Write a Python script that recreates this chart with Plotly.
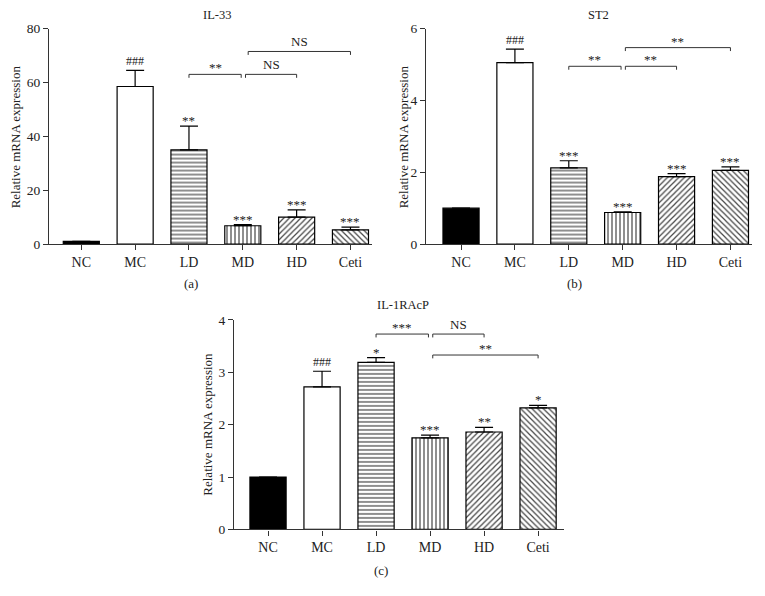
import plotly.graph_objects as go

W, H = 765, 596
# measured page mapping: image_x = fig_x + 8 ; image_y = 0.977 * fig_y + 14.4
X_OFF, Y_SCALE, Y_OFF = 8.0, 0.977, 14.4
FONT = "Liberation Serif"
TXT = "#222"

categories = ["NC", "MC", "LD", "MD", "HD", "Ceti"]

# Panel (a) IL-33
il33_vals = [1.0, 58.5, 35.0, 6.8, 10.0, 5.3]
il33_err = [0.0, 6.0, 8.8, 0.4, 2.7, 1.0]
il33_marks = ["", "###", "**", "***", "***", "***"]
il33_comp = [(2, 2.97, 63.0, "**"), (3.05, 4.0, 63.0, "NS"), (3.1, 5.0, 71.5, "NS")]

# Panel (b) ST2
st2_vals = [1.0, 5.05, 2.12, 0.88, 1.88, 2.05]
st2_err = [0.0, 0.38, 0.2, 0.02, 0.08, 0.1]
st2_marks = ["", "###", "***", "***", "***", "***"]
st2_comp = [(2, 2.97, 4.95, "**"), (3.05, 4.0, 4.95, "**"), (3.05, 5.0, 5.47, "**")]

# Panel (c) IL-1RAcP
il1_vals = [1.0, 2.72, 3.19, 1.75, 1.86, 2.32]
il1_err = [0.0, 0.3, 0.09, 0.05, 0.09, 0.05]
il1_marks = ["", "###", "*", "***", "**", "*"]
il1_comp = [(2, 2.97, 3.73, "***"), (3.05, 4.0, 3.73, "NS"), (3.05, 5.0, 3.33, "**")]

patterns = ["", "", "-", "|", "/", "\\"]
fills = ["black", "white", "white", "white", "white", "white"]

# layout geometry in reference-image pixels
panels = [
    dict(title="IL-33", label="(a)", vals=il33_vals, err=il33_err, marks=il33_marks, comp=il33_comp,
         ymax=80, dtick=20, px=(49, 372), py=(28, 244), xr=(-0.6, 5.4),
         tpos=(217, 14), lpos=(191, 283), ypos=(15, 137)),
    dict(title="ST2", label="(b)", vals=st2_vals, err=st2_err, marks=st2_marks, comp=st2_comp,
         ymax=6, dtick=2, px=(426, 752), py=(28, 244), xr=(-0.65, 5.4),
         tpos=(598, 14), lpos=(574, 283), ypos=(403, 137)),
    dict(title="IL-1RAcP", label="(c)", vals=il1_vals, err=il1_err, marks=il1_marks, comp=il1_comp,
         ymax=4, dtick=1, px=(234, 564), py=(320, 530), xr=(-0.63, 5.48),
         tpos=(403, 305), lpos=(381, 571), ypos=(208, 425)),
]


def fx(px):
    return (px - X_OFF) / W


def fy(py):
    return 1 - ((py - Y_OFF) / Y_SCALE) / H


fig = go.Figure()
annotations = []
shapes = []

for i, p in enumerate(panels):
    n = "" if i == 0 else str(i + 1)
    xa, ya = "x" + n, "y" + n
    fig.add_trace(go.Bar(
        x=list(range(len(categories))), y=p["vals"], xaxis=xa, yaxis=ya, width=0.67,
        marker=dict(color=fills, line=dict(color="black", width=1.2),
                    pattern=dict(shape=patterns, fgcolor="black", bgcolor="white",
                                 size=4, solidity=0.3, fgopacity=1)),
        error_y=dict(type="data", array=p["err"], arrayminus=[0] * 6, symmetric=False,
                     color="black", thickness=1.2, width=9),
        showlegend=False, hoverinfo="skip",
    ))
    xd = [fx(p["px"][0]), fx(p["px"][1])]
    yd = [fy(p["py"][1]), fy(p["py"][0])]
    fig.update_layout(**{
        ("xaxis" + n): dict(domain=xd, range=list(p["xr"]), tickvals=list(range(6)), ticktext=categories,
                            showline=True, linecolor="#333", linewidth=1.2, ticks="outside", ticklen=5,
                            tickcolor="#333", showgrid=False, zeroline=False, anchor=ya,
                            tickfont=dict(family=FONT, size=14, color=TXT), fixedrange=True),
        ("yaxis" + n): dict(domain=yd, range=[0, p["ymax"]], dtick=p["dtick"], showline=True,
                            linecolor="#333", linewidth=1.2, ticks="outside", ticklen=5, tickcolor="#333",
                            showgrid=False, zeroline=False, anchor=xa,
                            tickfont=dict(family=FONT, size=13.5, color=TXT)),
    })
    # per-bar significance marks
    for j, m in enumerate(p["marks"]):
        if m:
            star = m.startswith("*")
            annotations.append(dict(x=j, y=p["vals"][j] + p["err"][j], xref=xa, yref=ya, text=m,
                                    showarrow=False, xanchor="center", yanchor="bottom",
                                    yshift=-4 if star else 0,
                                    font=dict(family=FONT, size=13 if star else 12, color=TXT)))
    # comparison brackets
    tick = p["ymax"] * 0.016
    for (a, b, lvl, lab) in p["comp"]:
        shapes.append(dict(type="path", xref=xa, yref=ya,
                           path=f"M {a},{lvl - tick} L {a},{lvl} L {b},{lvl} L {b},{lvl - tick}",
                           line=dict(color="#333", width=1)))
        star = lab.startswith("*")
        annotations.append(dict(x=(a + b) / 2, y=lvl, xref=xa, yref=ya, text=lab, showarrow=False,
                                xanchor="center", yanchor="bottom", yshift=-3 if star else 0,
                                font=dict(family=FONT, size=13, color=TXT)))
    annotations.append(dict(x=fx(p["tpos"][0]), y=fy(p["tpos"][1]), xref="paper", yref="paper",
                            text=p["title"], showarrow=False, xanchor="center", yanchor="middle",
                            font=dict(family=FONT, size=12.5, color=TXT)))
    annotations.append(dict(x=fx(p["lpos"][0]), y=fy(p["lpos"][1]), xref="paper", yref="paper",
                            text=p["label"], showarrow=False, xanchor="center", yanchor="middle",
                            font=dict(family=FONT, size=13, color=TXT)))
    annotations.append(dict(x=fx(p["ypos"][0]), y=fy(p["ypos"][1]), xref="paper", yref="paper",
                            text="Relative mRNA expression", textangle=-90, showarrow=False,
                            xanchor="center", yanchor="middle",
                            font=dict(family=FONT, size=13, color=TXT)))

fig.update_layout(width=W, height=H, margin=dict(l=0, r=0, t=0, b=0),
                  paper_bgcolor="white", plot_bgcolor="white",
                  annotations=annotations, shapes=shapes, bargap=0.3)
fig.write_html("out.html")
